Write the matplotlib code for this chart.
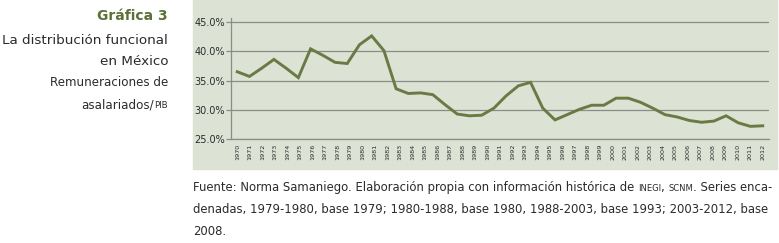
import matplotlib.pyplot as plt
import numpy as np
from matplotlib.patches import Rectangle
from matplotlib.offsetbox import TextArea, HPacker, AnnotationBbox

plt.rcParams['font.family'] = ['DejaVu Sans']

years = list(range(1970, 2013))
# la serie tiene una observación más que etiquetas (44 puntos sobre 43 años)
remuneraciones = [36.5, 35.7, 37.1, 38.6, 37.1, 35.5, 40.4, 39.3, 38.1, 37.9,
                  41.1, 42.6, 40.1, 33.6, 32.8, 32.9, 32.6, 30.9, 29.3, 29.0,
                  29.1, 30.3, 32.4, 34.1, 34.7, 30.3, 28.3, 29.2, 30.1, 30.8,
                  30.8, 32.0, 32.0, 31.3, 30.3, 29.2, 28.8, 28.2, 27.9, 28.1,
                  29.0, 27.8, 27.2, 27.3]
yticks = [25, 30, 35, 40, 45]

fondo = '#dce2d4'
verde = '#6b7a45'
gris = '#8a8d86'
texto = '#2b2b2b'

W, H = 779, 243
fig = plt.figure(figsize=(W / 100, H / 100), dpi=100)

# panel de fondo
fig.patches.append(Rectangle((193 / W, 1 - 169 / H), (777 - 193) / W, 169 / H,
                             transform=fig.transFigure, color=fondo, zorder=-5))

ax = fig.add_axes([231 / W, 1 - 139.3 / H, (769 - 231) / W, (139.3 - 18) / H])
ax.set_facecolor('none')
ax.set_zorder(2)

x = np.linspace(0, len(years) - 1, len(remuneraciones))
ax.plot(x, remuneraciones, color=verde, linewidth=2.1, solid_joinstyle='miter')

ax.set_xlim(-0.5, len(years) - 0.5)
ax.set_ylim(25, 45.65)
ax.set_yticks(yticks)
ax.set_yticklabels([f'{v:.1f}%' for v in yticks])
ax.set_xticks(range(len(years)))
ax.set_xticklabels([str(a) for a in years], rotation=90)

ax.yaxis.grid(True, color=gris, linewidth=0.9)
ax.set_axisbelow(True)
for s in ['top', 'right']:
    ax.spines[s].set_visible(False)
for s in ['left', 'bottom']:
    ax.spines[s].set_color(gris)
    ax.spines[s].set_linewidth(0.9)
ax.tick_params(axis='y', length=3.5, width=0.9, color=gris, labelsize=7,
               labelcolor=texto, pad=1)
ax.tick_params(axis='x', length=0, labelsize=4.6, labelcolor=texto, pad=3.2)


def linea(partes, xy, align):
    cajas = [TextArea(t, textprops=dict(fontsize=fs, color=c, fontweight=fw))
             for t, fs, c, fw in partes]
    pack = HPacker(children=cajas, align='baseline', pad=0, sep=0)
    ab = AnnotationBbox(pack, xy, xycoords='figure fraction',
                        box_alignment=align, frameon=False, pad=0)
    fig.add_artist(ab)


xr = 168 / W
linea([('Gráfica 3', 10, '#5c7038', 'bold')], (xr, 1 - 16 / H), (1, 0.5))
linea([('La distribución funcional', 9.7, texto, 'normal')], (xr, 1 - 40 / H), (1, 0.5))
linea([('en México', 9.7, texto, 'normal')], (xr, 1 - 61 / H), (1, 0.5))
linea([('Remuneraciones de', 8.6, texto, 'normal')], (xr, 1 - 82 / H), (1, 0.5))
linea([('asalariados/', 8.6, texto, 'normal'), ('PIB', 6.2, texto, 'normal')],
      (xr, 1 - 105 / H), (1, 0.5))

xl = 193 / W
fs = 8.4
linea([('Fuente: Norma Samaniego. Elaboración propia con información histórica de ', fs, texto, 'normal'),
       ('INEGI', fs * 0.72, texto, 'normal'), (', ', fs, texto, 'normal'),
       ('SCNM', fs * 0.72, texto, 'normal'), ('. Series enca-', fs, texto, 'normal')],
      (xl, 1 - 187 / H), (0, 0.5))
linea([('denadas, 1979-1980, base 1979; 1980-1988, base 1980, 1988-2003, base 1993; 2003-2012, base',
        fs, texto, 'normal')], (xl, 1 - 210 / H), (0, 0.5))
linea([('2008.', fs, texto, 'normal')], (xl, 1 - 231 / H), (0, 0.5))

fig.savefig('out.png', dpi=100)
